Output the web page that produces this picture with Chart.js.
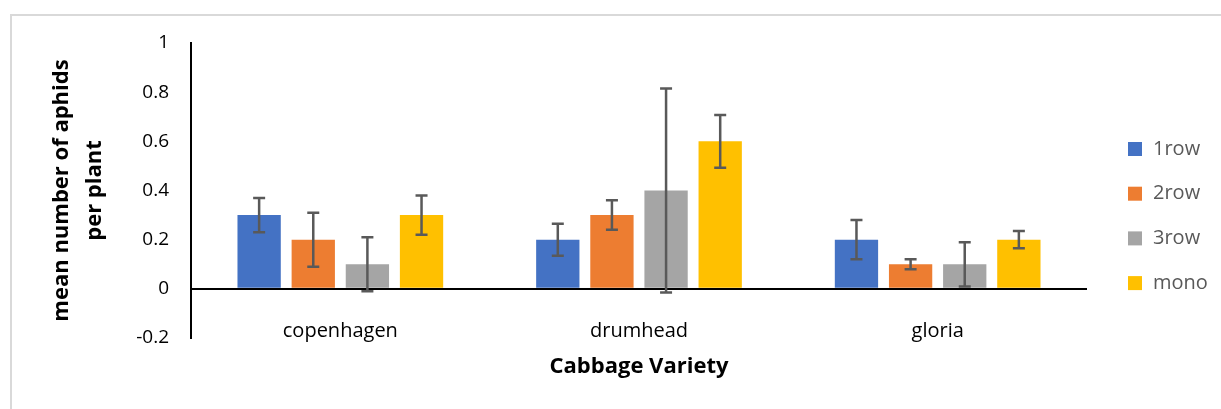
<!DOCTYPE html>
<html>
<head>
<meta charset="utf-8">
<script src="https://cdn.jsdelivr.net/npm/chart.js@4.4.0/dist/chart.umd.min.js"></script>
<style>
  body { margin: 0; background: #fff; overflow: hidden; }
  #frame { position: absolute; left: 10px; top: 14px; width: 1230px; height: 420px; border: 2px solid #d9d9d9; box-sizing: border-box; }
  #chart { position: absolute; left: 0; top: 0; }
</style>
</head>
<body>
<div id="frame"></div>
<canvas id="chart" width="1221" height="409"></canvas>
<script>
// Chart data
const categories = ['copenhagen', 'drumhead', 'gloria'];
const seriesNames = ['1row', '2row', '3row', 'mono'];
const row1 = [0.3, 0.2, 0.2];
const row2 = [0.2, 0.3, 0.1];
const row3 = [0.1, 0.4, 0.1];
const mono = [0.3, 0.6, 0.2];
// error bar half-widths (+/-)
const row1Err = [0.07, 0.065, 0.08];
const row2Err = [0.11, 0.06, 0.02];
const row3Err = [0.11, 0.415, 0.09];
const monoErr = [0.08, 0.107, 0.035];
const yTicks = [-0.2, 0, 0.2, 0.4, 0.6, 0.8, 1];

const colors = ['#4472C4', '#ED7D31', '#A5A5A5', '#FFC000'];
const seriesValues = [row1, row2, row3, mono];
const seriesErrors = [row1Err, row2Err, row3Err, monoErr];
const FONT = "'Open Sans', sans-serif";

// Draw error bars on top of the bars
const errorBars = {
    id: 'errorBars',
    afterDatasetsDraw(chart) {
        const ctx = chart.ctx;
        const y = chart.scales.y;
        ctx.save();
        ctx.strokeStyle = '#595959';
        ctx.lineWidth = 2.5;
        chart.data.datasets.forEach((ds, i) => {
            chart.getDatasetMeta(i).data.forEach((bar, j) => {
                const v = ds.data[j];
                const e = seriesErrors[i][j];
                const top = y.getPixelForValue(v + e);
                const bot = y.getPixelForValue(v - e);
                ctx.beginPath();
                ctx.moveTo(bar.x, top);
                ctx.lineTo(bar.x, bot);
                ctx.moveTo(bar.x - 6, top);
                ctx.lineTo(bar.x + 6, top);
                ctx.moveTo(bar.x - 6, bot);
                ctx.lineTo(bar.x + 6, bot);
                ctx.stroke();
            });
        });
        ctx.restore();
    }
};

// Category labels sit low, near the -0.2 line (Excel "low" label position)
const lowLabels = {
    id: 'lowLabels',
    afterDraw(chart) {
        const ctx = chart.ctx;
        const x = chart.scales.x;
        ctx.save();
        ctx.font = '20px ' + FONT;
        ctx.fillStyle = '#000';
        ctx.textAlign = 'center';
        ctx.textBaseline = 'alphabetic';
        chart.data.labels.forEach((lab, i) => {
            ctx.fillText(lab, x.getPixelForValue(i), 337);
        });
        ctx.restore();
    }
};

// Legend drawn at the right side, like the original
const sideLegend = {
    id: 'sideLegend',
    afterDraw(chart) {
        const ctx = chart.ctx;
        ctx.save();
        ctx.font = '20px ' + FONT;
        ctx.textBaseline = 'middle';
        chart.data.datasets.forEach((ds, i) => {
            const cy = 149 + i * 44.7;
            ctx.fillStyle = ds.backgroundColor;
            ctx.fillRect(1128, cy - 7, 14, 14);
            ctx.fillStyle = '#595959';
            ctx.fillText(ds.label, 1153, cy);
        });
        ctx.restore();
    }
};

new Chart(document.getElementById('chart'), {
    type: 'bar',
    data: {
        labels: categories,
        datasets: seriesNames.map((name, i) => ({
            label: name,
            data: seriesValues[i],
            backgroundColor: colors[i],
            categoryPercentage: 0.725,
            barPercentage: 0.8
        }))
    },
    options: {
        responsive: false,
        animation: false,
        layout: { padding: { top: 43, right: 134, bottom: 0, left: 0 } },
        plugins: {
            legend: { display: false },
            tooltip: { enabled: false }
        },
        scales: {
            x: {
                grid: { display: false },
                border: { display: false },
                ticks: { display: false },
                title: {
                    display: true,
                    text: 'Cabbage Variety',
                    color: '#000',
                    font: { family: FONT, size: 22, weight: 'bold' },
                    padding: { top: 29, bottom: 29 }
                },
                afterFit(scale) { scale.height = 71; }
            },
            y: {
                min: -0.2,
                max: 1,
                afterBuildTicks(scale) { scale.ticks = yTicks.map(v => ({ value: v })); },
                ticks: {
                    color: '#000',
                    font: { family: FONT, size: 19 },
                    padding: 22,
                    callback: v => String(Number(v.toFixed(1)))
                },
                grid: {
                    drawTicks: false,
                    lineWidth: 2,
                    color: c => (c.tick && c.tick.value === 0 ? '#000' : 'rgba(0,0,0,0)')
                },
                border: { color: '#000', width: 2 },
                title: {
                    display: true,
                    text: ['mean number of aphids', 'per plant'],
                    color: '#000',
                    font: { family: FONT, size: 22, weight: 'bold', lineHeight: 1.5 },
                    padding: { top: 45, bottom: 0 }
                },
                afterFit(scale) { scale.width = 191; }
            }
        }
    },
    plugins: [errorBars, lowLabels, sideLegend]
});
</script>
</body>
</html>
